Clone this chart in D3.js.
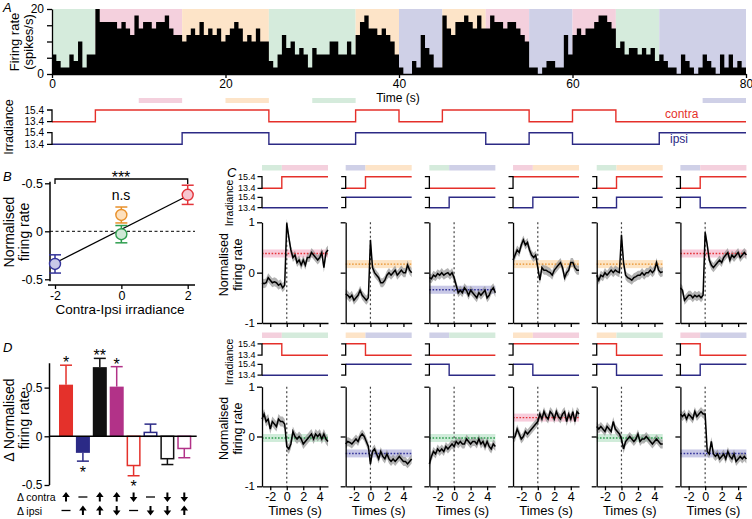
<!DOCTYPE html>
<html><head><meta charset="utf-8">
<script src="https://cdn.jsdelivr.net/npm/d3@7"></script>
<style>
body{margin:0;background:#fff}
svg{display:block}
text{font-family:"Liberation Sans",Arial,sans-serif}
</style>
</head><body>
<svg id="c" width="752" height="519"></svg>
<script>
// ---------------- DATA ----------------
// Panel A
const binWidth = 0.5;
const histRate = [
 6,4,2,2,6,4,10,2,6,6,
 20,16,16,16,16,14,16,14,12,18,14,16,16,14,16,16,18,14,12,12,
 10,12,14,12,16,12,14,12,14,10,12,14,16,14,10,12,10,14,10,10,
 4,2,6,12,8,10,6,8,6,2,8,6,6,6,10,10,6,6,10,6,
 12,16,18,14,14,12,14,12,10,6,
 2,0,0,4,2,12,8,6,2,2,
 18,14,12,16,16,18,16,14,18,14,14,18,16,16,14,16,16,14,12,10,
 2,2,0,2,4,4,2,2,12,6,
 12,14,12,14,14,16,18,18,16,14,8,10,6,8,8,6,8,6,8,4,
 6,4,2,2,0,6,4,2,0,2,6,4,2,0,6,2,6,2,4,2
];
const segTimes = [0,5,15,25,35,40,45,50,55,60,65,70,80];
const segCond  = ["G","P","O","G","O","U","O","P","U","P","G","U"];
const contraLevel = [13.4,15.4,15.4,13.4,15.4,13.4,15.4,15.4,13.4,15.4,13.4,13.4];
const ipsiLevel   = [13.4,13.4,15.4,13.4,15.4,15.4,15.4,13.4,15.4,13.4,13.4,15.4];
const analysisStart = [10,20,30,75];
const analysisEnd   = [15,25,35,80];
const analysisCond  = ["P","O","G","U"];
const xTicksA = [0,20,40,60,80];
const yTicksA = [0,5,10,15,20];
const irrTicks = [15.4,13.4];

// Panel B
const bCond = ["U","O","G","P"];
const bX   = [-2,0,0,2];
const bY   = [-0.34,0.17,-0.03,0.38];
const bErr = [0.095,0.083,0.09,0.1];
const fitX = [-2,2];
const fitY = [-0.33,0.37];
const bYTicks = [0.5,0,-0.5];
const bYTickLabels = ["-0.5","0","-0.5"];
const bXTicks = [-2,0,2];

// Panel C
const cTime = [-3,-2.75,-2.5,-2.25,-2,-1.75,-1.5,-1.25,-1,-0.75,-0.5,-0.25,
  0,0.25,0.5,0.75,1,1.25,1.5,1.75,2,2.25,2.5,2.75,3,3.25,3.5,3.75,4,4.25,4.5,4.75,5];
const cFrom = ["G","U","G","P","G","U","P","O","U","O","O","P"];
const cTo   = ["P","O","U","O","O","P","G","U","G","P","G","U"];
const stepTime = -0.6;
const cTraces = [
 [-0.2,-0.22,-0.2,-0.1,-0.15,-0.2,-0.18,-0.2,-0.25,-0.22,-0.3,-0.25, 0.98,0.7,0.45,0.3,0.35,0.2,0.25,0.15,0.25,0.15,0.3,0.3,0.4,0.35,0.3,0.25,0.3,0.4,0.1,0.4,0.45],
 [-0.42,-0.45,-0.5,-0.45,-0.55,-0.5,-0.45,-0.35,-0.45,-0.5,-0.55,-0.5, 0.65,0.1,0.0,-0.05,-0.1,-0.2,-0.2,-0.15,-0.05,0.0,-0.05,0.0,0.05,-0.05,0.0,0.05,0.0,0.0,0.15,0.05,0.0],
 [-0.1,-0.12,-0.05,-0.08,-0.02,-0.05,0.0,-0.05,-0.02,0.0,-0.05,0.0, -0.1,-0.25,-0.4,-0.35,-0.4,-0.3,-0.35,-0.45,-0.35,-0.4,-0.45,-0.5,-0.4,-0.45,-0.4,-0.35,-0.5,-0.45,-0.35,-0.3,-0.4],
 [0.25,0.35,0.45,0.4,0.55,0.65,0.55,0.6,0.45,0.35,0.3,0.35, 0.1,-0.15,0.1,0.05,0.05,0.02,0.0,-0.05,0.05,0.1,0.15,0.2,0.1,-0.1,0.0,0.05,0.2,0.2,0.1,0.05,0.05],
 [-0.05,-0.15,-0.05,-0.08,0.0,-0.05,0.0,0.05,0.0,0.05,0.02,0.0, 0.75,0.2,-0.05,-0.1,-0.12,-0.15,-0.1,-0.08,-0.05,-0.05,0.0,-0.05,0.0,0.0,0.05,0.0,0.05,0.2,0.05,0.0,0.02],
 [-0.3,-0.35,-0.55,-0.5,-0.45,-0.45,-0.5,-0.45,-0.48,-0.45,-0.5,-0.45, 0.8,0.55,0.25,0.15,0.1,0.15,0.2,0.25,0.2,0.3,0.35,0.4,0.25,0.35,0.3,0.35,0.4,0.3,0.35,0.4,0.35],
 [0.35,0.45,0.3,0.35,0.15,0.3,0.25,0.2,0.35,0.3,0.3,0.25, -0.2,-0.25,-0.15,0.1,0.0,-0.05,0.0,-0.05,-0.15,-0.1,-0.05,0.0,0.05,-0.05,0.05,0.0,0.05,-0.05,0.05,-0.05,-0.1],
 [-0.15,-0.1,-0.12,-0.15,-0.1,-0.05,-0.1,0.0,0.05,0.0,-0.1,-0.2, -0.55,-0.3,-0.25,-0.35,-0.45,-0.3,-0.4,-0.45,-0.35,-0.45,-0.5,-0.45,-0.5,-0.45,-0.4,-0.45,-0.5,-0.5,-0.55,-0.5,-0.45],
 [-0.55,-0.4,-0.3,-0.35,-0.25,-0.3,-0.25,-0.3,-0.2,-0.25,-0.2,-0.15, -0.2,-0.1,-0.15,-0.1,-0.15,-0.15,-0.05,-0.1,-0.15,-0.1,-0.1,-0.15,-0.05,-0.15,-0.1,-0.2,-0.1,-0.2,-0.25,-0.15,-0.2],
 [-0.05,0.0,0.15,0.05,-0.05,0.0,0.1,0.05,0.1,0.15,0.2,0.25, 0.3,0.45,0.35,0.5,0.4,0.35,0.5,0.45,0.35,0.5,0.4,0.35,0.45,0.5,0.3,0.45,0.35,0.5,0.3,0.5,0.45],
 [0.2,0.15,0.2,0.15,0.1,0.2,0.15,0.1,0.3,0.15,0.1,0.05, -0.05,-0.25,-0.1,-0.05,0.0,-0.05,-0.1,-0.05,0.05,-0.1,-0.05,-0.05,0.0,-0.05,-0.1,-0.15,-0.1,-0.05,-0.1,-0.15,-0.15],
 [0.45,0.4,0.45,0.35,0.45,0.4,0.35,0.5,0.4,0.45,0.5,0.45, 0.45,-0.3,-0.35,-0.1,-0.35,-0.4,-0.35,-0.45,-0.4,-0.35,-0.45,-0.3,-0.4,-0.45,-0.35,-0.5,-0.45,-0.4,-0.45,-0.4,-0.45]
];
const cSem = [0.09,0.09,0.09,0.09,0.09,0.09,0.1,0.09,0.09,0.09,0.09,0.09];
const refSem = 0.08;
const cXTicks = [-2,0,2,4];
const cYTicks = [1,0,-1];

// Panel D
const dVals = [0.53,-0.17,0.71,0.51,-0.30,0.04,-0.23,-0.125];
const dErr  = [0.2,0.085,0.09,0.205,0.105,0.085,0.06,0.095];
const dColorKey = ["red","blue","black","mag","red","blue","black","mag"];
const dFilled = [true,true,true,true,false,false,false,false];
const dStars = ["*","*","**","*","*","","",""];
const dContra = ["up","none","up","up","down","none","down","down"];
const dIpsi   = ["none","up","up","down","none","down","down","up"];
const dYTicks = [0.5,0,-0.5];
const dYTickLabels = ["-0.5","0","-0.5"];

// ---------------- STYLE ----------------
const bg = {G:"#d5ebdc",P:"#f4d0dd",O:"#fde4c8",U:"#cfd0e7"};
const dark = {G:"#2f9e4f",P:"#e3343a",O:"#e8902a",U:"#34349a"};
const light = {G:"#cfe8d6",P:"#f6c6d0",O:"#fde0bd",U:"#c9c9e8"};
const refBand = {G:"rgba(120,200,150,0.35)",P:"rgba(236,120,160,0.38)",O:"rgba(250,185,100,0.38)",U:"rgba(110,110,190,0.38)"};
const dCol = {red:"#e4312b",blue:"#2b2a86",black:"#111111",mag:"#b23288"};
const RED="#e5302a", BLUE="#2c2a85";

const svg = d3.select("#c");

function txt(x,y,s,o={}){
  const t = svg.append("text").attr("x",x).attr("y",y).text(s)
    .attr("font-size",o.size||12).attr("text-anchor",o.anchor||(o.rot?"middle":"start")).attr("fill",o.fill||"#000");
  if(o.italic) t.attr("font-style","italic");
  if(o.family) t.attr("font-family",o.family);
  if(o.rot) t.attr("transform",`rotate(-90,${x},${y})`).attr("dominant-baseline","central");
  else if(o.mid) t.attr("dominant-baseline","central");
  return t;
}
function styleAxis(g,size){
  g.selectAll("path,line").attr("stroke","#000").attr("stroke-width",1.3);
  g.selectAll("text").attr("font-size",size||12).attr("font-family","Liberation Sans, Arial, sans-serif").attr("fill","#000");
}
const NARROW = "Liberation Sans Narrow, Liberation Sans, Arial, sans-serif";

// ---------------- PANEL A ----------------
const xA = d3.scaleLinear().domain([0,80]).range([52,746]);
const yA = d3.scaleLinear().domain([0,20]).range([74,9]);
segCond.forEach((c,i)=>{
  svg.append("rect").attr("x",xA(segTimes[i])).attr("y",yA(20))
    .attr("width",xA(segTimes[i+1])-xA(segTimes[i])).attr("height",yA(0)-yA(20)).attr("fill",bg[c]);
});
const hPts = histRate.map((v,i)=>[i*binWidth,v]);
hPts.push([segTimes[segTimes.length-1], histRate[histRate.length-1]]);
svg.append("path").datum(hPts)
  .attr("d",d3.area().x(d=>xA(d[0])).y0(yA(0)).y1(d=>yA(d[1])).curve(d3.curveStepAfter))
  .attr("fill","#000");
const axAy = svg.append("g").attr("transform",`translate(${xA(0)},0)`)
  .call(d3.axisLeft(yA).tickValues(yTicksA).tickFormat(d=>(d===0||d===20)?d:"").tickSize(5).tickSizeOuter(0));
styleAxis(axAy,12);
const axAx = svg.append("g").attr("transform",`translate(0,${yA(0)})`)
  .call(d3.axisBottom(xA).tickValues(xTicksA).tickSize(4).tickSizeOuter(0).tickPadding(1));
styleAxis(axAx,12);
txt(14,42,"Firing rate",{rot:true,size:13});
txt(28,42,"(spikes/s)",{rot:true,size:13});
txt(398,101.5,"Time (s)",{anchor:"middle",size:12});
txt(3,12,"A",{italic:true,size:13});

analysisStart.forEach((s,i)=>{
  svg.append("rect").attr("x",xA(s)).attr("y",98).attr("width",xA(analysisEnd[i])-xA(s)).attr("height",5)
    .attr("fill",bg[analysisCond[i]]);
});
const yCon = d3.scaleLinear().domain([13.4,15.4]).range([121.7,110]);
const yIps = d3.scaleLinear().domain([13.4,15.4]).range([144.3,132.7]);
function stepPts(levels){
  const p = levels.map((v,i)=>[segTimes[i],v]);
  p.push([segTimes[segTimes.length-1],levels[levels.length-1]]);
  return p;
}
svg.append("path").datum(stepPts(contraLevel))
  .attr("d",d3.line().x(d=>xA(d[0])).y(d=>yCon(d[1])).curve(d3.curveStepAfter))
  .attr("fill","none").attr("stroke",RED).attr("stroke-width",1.4);
svg.append("path").datum(stepPts(ipsiLevel))
  .attr("d",d3.line().x(d=>xA(d[0])).y(d=>yIps(d[1])).curve(d3.curveStepAfter))
  .attr("fill","none").attr("stroke",BLUE).attr("stroke-width",1.4);
function bracket(x,ys,len){
  svg.append("path").attr("d",`M${x-len},${ys(irrTicks[0])}H${x}V${ys(irrTicks[1])}H${x-len}`)
    .attr("fill","none").attr("stroke","#000").attr("stroke-width",1.3);
}
function irrLabels(x,ys,size){
  irrTicks.forEach((v,k)=>txt(x,ys(v),v.toFixed(1),{anchor:"end",size:size,family:NARROW,mid:true}));
}
bracket(xA(0),yCon,5); bracket(xA(0),yIps,5);
irrLabels(44,yCon,10); irrLabels(44,yIps,10);
txt(9,127,"Irradiance",{rot:true,size:12.5});
txt(665,118,"contra",{size:12,fill:RED});
txt(670,143,"ipsi",{size:12,fill:BLUE});

// ---------------- PANEL B ----------------
const xB = d3.scaleLinear().domain([-2,2]).range([55,187.7]);
const yB = d3.scaleLinear().domain([-0.5,0.5]).range([279.3,183.3]);
txt(3,181,"B",{italic:true,size:13});
svg.append("line").attr("x1",50).attr("x2",50).attr("y1",yB(0.517)).attr("y2",yB(-0.52)).attr("stroke","#000").attr("stroke-width",1.5);
const axBy = svg.append("g").attr("transform","translate(50,0)")
  .call(d3.axisLeft(yB).tickValues(bYTicks).tickFormat((d,i)=>bYTickLabels[i]).tickSize(5).tickSizeOuter(0).tickPadding(2));
axBy.select(".domain").remove(); styleAxis(axBy,12.5);
const axBx = svg.append("g").attr("transform","translate(0,285)")
  .call(d3.axisBottom(xB).tickValues(bXTicks).tickFormat(d=>d).tickSize(4).tickSizeOuter(0).tickPadding(2));
axBx.select(".domain").remove(); styleAxis(axBx,12.5);
svg.append("line").attr("x1",48).attr("x2",195).attr("y1",285).attr("y2",285).attr("stroke","#000").attr("stroke-width",1.5);
txt(120,314,"Contra-Ipsi irradiance",{anchor:"middle",size:13.5});
txt(9,232,"Normalised",{rot:true,size:14});
txt(24,232,"firing rate",{rot:true,size:14});
svg.append("line").attr("x1",50).attr("x2",195).attr("y1",yB(0)).attr("y2",yB(0))
  .attr("stroke","#000").attr("stroke-width",1).attr("stroke-dasharray","3,2.5");
svg.append("line").attr("x1",xB(fitX[0])).attr("y1",yB(fitY[0])).attr("x2",xB(fitX[1])).attr("y2",yB(fitY[1]))
  .attr("stroke","#000").attr("stroke-width",1.3);
bX.forEach((x,i)=>{
  const c = dark[bCond[i]], cx = xB(x);
  const g = svg.append("g").attr("stroke",c).attr("stroke-width",1.5).attr("fill","none");
  g.append("line").attr("x1",cx).attr("x2",cx).attr("y1",yB(bY[i]+bErr[i])).attr("y2",yB(bY[i]-bErr[i]));
  [bY[i]+bErr[i],bY[i]-bErr[i]].forEach(v=>g.append("line").attr("x1",cx-6).attr("x2",cx+6).attr("y1",yB(v)).attr("y2",yB(v)));
  svg.append("circle").attr("cx",cx).attr("cy",yB(bY[i])).attr("r",5.5)
    .attr("fill",light[bCond[i]]).attr("stroke",c).attr("stroke-width",1.4);
});
svg.append("path").attr("d",`M${xB(-2)},184V179H${xB(2)}V184`).attr("fill","none").attr("stroke","#000").attr("stroke-width",1.3);
txt(121,183,"***",{anchor:"middle",size:16});
txt(121,200,"n.s",{anchor:"middle",size:14});

// ---------------- PANEL C ----------------
txt(227,177,"C",{italic:true,size:13});
const rows = [
  {hdr:165, cH:176.7, cL:188.3, iH:197.3, iL:207.7, pTop:222.3, pBot:323, irrY:203},
  {hdr:332.5, cH:343.8, cL:355.2, iH:364.3, iL:375.2, pTop:386.7, pBot:486.3, irrY:362}
];
const condLevel = {G:[13.4,13.4],P:[15.4,13.4],O:[15.4,15.4],U:[13.4,15.4]};
const refVal = {}; bCond.forEach((c,i)=>refVal[c]=bY[i]);
rows.forEach((r,ri)=>{
  txt(229,r.irrY,"Irradiance",{rot:true,size:10.5});
  txt(224,(r.pTop+r.pBot)/2-8,"Normalised",{rot:true,size:12.5});
  txt(238,(r.pTop+r.pBot)/2-8,"firing rate",{rot:true,size:12.5});
});
cTraces.forEach((tr,i)=>{
  const ri = Math.floor(i/6), ci = i%6, r = rows[ri];
  const x0 = 262 + ci*83.68;
  const x = d3.scaleLinear().domain([-3,5]).range([x0,x0+66]);
  const y = d3.scaleLinear().domain([-1,1]).range([r.pBot,r.pTop]);
  const fC = cFrom[i], tC = cTo[i];
  svg.append("rect").attr("x",x(-3)).attr("y",r.hdr).attr("width",x(stepTime)-x(-3)).attr("height",5.5).attr("fill",bg[fC]);
  svg.append("rect").attr("x",x(stepTime)).attr("y",r.hdr).attr("width",x(5)-x(stepTime)).attr("height",5.5).attr("fill",bg[tC]);
  const yc = d3.scaleLinear().domain([13.4,15.4]).range([r.cL,r.cH]);
  const yi = d3.scaleLinear().domain([13.4,15.4]).range([r.iL,r.iH]);
  const lc = d3.line().x(d=>x(d[0])).y(d=>yc(d[1])).curve(d3.curveStepAfter);
  const li = d3.line().x(d=>x(d[0])).y(d=>yi(d[1])).curve(d3.curveStepAfter);
  svg.append("path").attr("d",lc([[-3,condLevel[fC][0]],[stepTime,condLevel[tC][0]],[5,condLevel[tC][0]]]))
    .attr("fill","none").attr("stroke",RED).attr("stroke-width",1.4);
  svg.append("path").attr("d",li([[-3,condLevel[fC][1]],[stepTime,condLevel[tC][1]],[5,condLevel[tC][1]]]))
    .attr("fill","none").attr("stroke",BLUE).attr("stroke-width",1.4);
  bracket(x0,yc,4.5); bracket(x0,yi,4.5);
  if(ci===0){ irrLabels(255.5,yc,9); irrLabels(255.5,yi,9); }
  const rv = refVal[tC];
  svg.append("rect").attr("x",x(-3)).attr("width",x(5)-x(-3)).attr("y",y(rv+refSem)).attr("height",y(rv-refSem)-y(rv+refSem)).attr("fill",refBand[tC]);
  const pts = cTime.map((t,k)=>[t,tr[k]]);
  svg.append("path").datum(pts)
    .attr("d",d3.area().x(d=>x(d[0])).y0(d=>y(d[1]-cSem[i])).y1(d=>y(d[1]+cSem[i])))
    .attr("fill","#9a9a9a").attr("opacity",0.75);
  svg.append("line").attr("x1",x(-3)).attr("x2",x(5)).attr("y1",y(rv)).attr("y2",y(rv))
    .attr("stroke",dark[tC]).attr("stroke-width",1.4).attr("stroke-dasharray","1.6,1.6");
  svg.append("line").attr("x1",x(0)).attr("x2",x(0)).attr("y1",y(1)).attr("y2",y(-1))
    .attr("stroke","#444").attr("stroke-width",1.2).attr("stroke-dasharray","2,2.5");
  svg.append("path").datum(pts).attr("d",d3.line().x(d=>x(d[0])).y(d=>y(d[1])))
    .attr("fill","none").attr("stroke","#000").attr("stroke-width",1.5);
  const ay = svg.append("g").attr("transform",`translate(${x0},0)`)
    .call(d3.axisLeft(y).tickValues(cYTicks).tickFormat(d=>ci===0?d:"").tickSize(5).tickSizeOuter(0).tickPadding(2));
  styleAxis(ay,11.5);
  const ax = svg.append("g").attr("transform",`translate(0,${r.pBot})`)
    .call(d3.axisBottom(x).tickValues(cXTicks).tickFormat(d=>ri===1?d:"").tickSize(4).tickSizeOuter(0).tickPadding(2));
  styleAxis(ax,12.5);
  if(ri===1) txt(x(1),515,"Times (s)",{anchor:"middle",size:13});
});

// ---------------- PANEL D ----------------
txt(3,352,"D",{italic:true,size:13});
const xD = d3.scaleBand().domain(d3.range(dVals.length)).range([59,191.3]).paddingInner(0.17).paddingOuter(0);
const yD = d3.scaleLinear().domain([-0.5,0.5]).range([485,387.6]);
svg.append("line").attr("x1",49.5).attr("x2",49.5).attr("y1",yD(0.75)).attr("y2",yD(-0.5)).attr("stroke","#000").attr("stroke-width",1.5);
const axDy = svg.append("g").attr("transform","translate(49.5,0)")
  .call(d3.axisLeft(yD).tickValues(dYTicks).tickFormat((d,i)=>dYTickLabels[i]).tickSize(5).tickSizeOuter(0).tickPadding(2));
axDy.select(".domain").remove(); styleAxis(axDy,12);
txt(9,420,"\u0394 Normalised",{rot:true,size:14});
txt(24,420,"firing rate",{rot:true,size:14});
dVals.forEach((v,i)=>{
  const c = dCol[dColorKey[i]], bx = xD(i), bw = xD.bandwidth(), cx = bx+bw/2;
  const tip = v + Math.sign(v)*dErr[i];
  svg.append("line").attr("x1",cx).attr("x2",cx).attr("y1",yD(v)).attr("y2",yD(tip)).attr("stroke",c).attr("stroke-width",1.5);
  svg.append("line").attr("x1",cx-6).attr("x2",cx+6).attr("y1",yD(tip)).attr("y2",yD(tip)).attr("stroke",c).attr("stroke-width",1.5);
  const y0 = Math.min(yD(0),yD(v)), h = Math.abs(yD(v)-yD(0));
  if(dFilled[i]) svg.append("rect").attr("x",bx).attr("y",y0).attr("width",bw).attr("height",h).attr("fill",c);
  else svg.append("rect").attr("x",bx+0.75).attr("y",y0).attr("width",bw-1.5).attr("height",h).attr("fill","#fff").attr("stroke",c).attr("stroke-width",1.5);
  if(dStars[i]){
    const sy = v>0 ? yD(tip)+3 : yD(tip)+16.5;
    txt(cx,sy,dStars[i],{anchor:"middle",size:16});
  }
});
svg.append("line").attr("x1",50).attr("x2",196.7).attr("y1",yD(0)).attr("y2",yD(0)).attr("stroke","#000").attr("stroke-width",1.5);
function arrow(cx,cy,dir){
  if(dir==="none"){
    svg.append("line").attr("x1",cx-4.5).attr("x2",cx+4.5).attr("y1",cy).attr("y2",cy).attr("stroke","#000").attr("stroke-width",1.3);
    return;
  }
  const s = dir==="up"?-1:1;
  svg.append("path").attr("d",`M${cx-3.8},${cy}L${cx},${cy+s*5}L${cx+3.8},${cy}Z M${cx-1},${cy}V${cy-s*4.5}H${cx+1}V${cy}Z`).attr("fill","#000");
}
const SERIF = "Liberation Serif, Times New Roman, serif";
txt(17,501,"\u0394 contra",{size:10.5,family:SERIF});
txt(17,514.5,"\u0394 ipsi",{size:10.5,family:SERIF});
dVals.forEach((v,i)=>{
  const cx = xD(i)+xD.bandwidth()/2;
  arrow(cx,497,dContra[i]);
  arrow(cx,510.5,dIpsi[i]);
});
</script>
</body></html>
